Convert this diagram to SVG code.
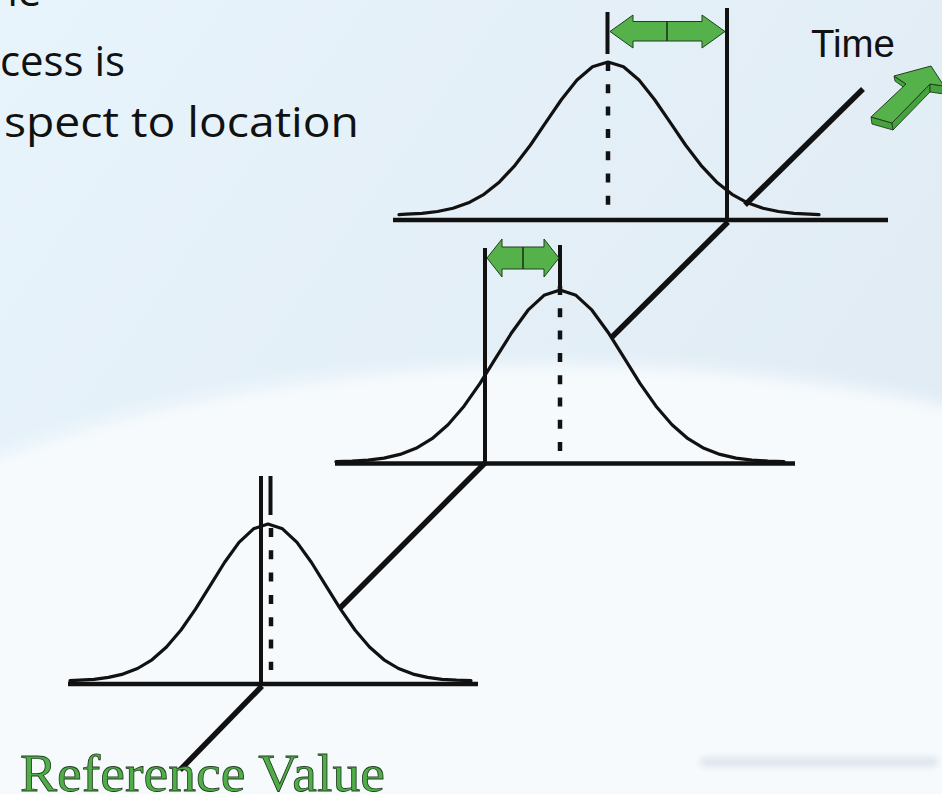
<svg xmlns="http://www.w3.org/2000/svg" width="942" height="794" viewBox="0 0 942 794">
<defs>
<linearGradient id="bg" x1="0" y1="0" x2="1" y2="0.6">
<stop offset="0" stop-color="#e8f4fb"/>
<stop offset="1" stop-color="#e0ebf4"/>
</linearGradient>
<filter id="soft" x="-10%" y="-10%" width="120%" height="120%"><feGaussianBlur stdDeviation="8"/></filter>
<filter id="soft2" x="-10%" y="-100%" width="120%" height="300%"><feGaussianBlur stdDeviation="3"/></filter>
<style>
.curve{fill:none;stroke:#111;stroke-width:3.2;stroke-linejoin:round;stroke-linecap:round}
.axis{stroke:#111;stroke-width:4.5}
.vline{stroke:#111;stroke-width:4}
.dash{stroke:#111;stroke-width:4.5;stroke-dasharray:9 13.3}
.diag{stroke:#111;stroke-width:5.5}
.garrow{fill:#55b24a;stroke:#223d20;stroke-width:1}
.gside{fill:#46a23c;stroke:#223d20;stroke-width:0.9}
.body{font-family:'Open Sans','Noto Sans',sans-serif;font-size:42px;fill:#111}
</style>
</defs>
<rect width="942" height="794" fill="url(#bg)"/>
<ellipse cx="560" cy="840" rx="950" ry="476" fill="#f6fafd" filter="url(#soft)"/>
<rect x="700" y="757" width="238" height="10" rx="5" fill="#dfe6ee" filter="url(#soft2)"/>

<g id="title-text">
<text class="body" x="-8" y="6">ne</text>
<text class="body" x="0" y="76" textLength="125" lengthAdjust="spacingAndGlyphs">cess is</text>
<text class="body" x="4" y="137" textLength="355" lengthAdjust="spacingAndGlyphs">spect to location</text>
</g>

<g id="connectors">
<line class="diag" x1="262" y1="686" x2="180" y2="770"/>
<line class="diag" x1="340" y1="608" x2="485" y2="463"/>
<line class="diag" x1="612" y1="337" x2="728" y2="222"/>
<line class="diag" x1="745" y1="205" x2="863" y2="89"/>
</g>

<g id="dist-1">
<line class="axis" x1="68" y1="684" x2="478" y2="684"/>
<polyline class="curve" points="70,680.7 79.5,680.2 94,679.3 108.5,677.4 123,674.1 137.5,668.5 152,659.8 166.5,647 181,630 195.5,609.1 210,585.8 224.5,562.5 239,542.4 253.5,528.8 268,524 282.5,528.8 297,542.4 311.5,562.5 326,585.8 340.5,609.1 355,630 369.5,647 384,659.8 398.5,668.5 413,674.1 427.5,677.4 442,679.3 456.5,680.2 471,680.7"/>
<line class="vline" x1="261" y1="476" x2="261" y2="686"/>
<line class="vline" x1="270.5" y1="476" x2="270.5" y2="515"/>
<line class="dash" x1="271" y1="528" x2="271" y2="670"/>
</g>

<g id="dist-2">
<line class="axis" x1="335" y1="463.5" x2="795" y2="463.5"/>
<polyline class="curve" points="336,461.6 352,461.1 368,460.1 384,458.1 400,454.4 416,448.3 432,438.7 448,424.8 464,406.2 480,383.3 496,357.7 512,332.2 528,310.2 544,295.3 560,290 576,295.3 592,310.2 608,332.2 624,357.7 640,383.3 656,406.2 672,424.8 688,438.7 704,448.3 720,454.4 736,458.1 752,460.1 768,461.1 784,461.6"/>
<line class="vline" x1="485" y1="248" x2="485" y2="463"/>
<line class="vline" x1="560" y1="245" x2="560" y2="292"/>
<line class="dash" x1="560" y1="286" x2="560" y2="451"/>
<polygon class="garrow" points="487,258 502,239 502,247 544,247 544,239 559,258 544,277 544,269 502,269 502,277"/>
<line x1="523" y1="247" x2="523" y2="269" stroke="#1a2e18" stroke-width="1.5"/>
</g>

<g id="dist-3">
<line class="axis" x1="393" y1="220" x2="888" y2="220"/>
<polyline class="curve" points="399,214.6 406.5,214.2 422,213.3 437.5,211.5 453,208.3 468.5,202.8 484,194.3 499.5,181.9 515,165.3 530.5,145 546,122.2 561.5,99.5 577,80 592.5,66.7 608,62 623.5,66.7 639,80 654.5,99.5 670,122.2 685.5,145 701,165.3 716.5,181.9 732,194.3 747.5,202.8 763,208.3 778.5,211.5 794,213.3 809.5,214.2 819,214.6"/>
<line class="vline" x1="607.5" y1="12" x2="607.5" y2="54"/>
<line class="vline" x1="727" y1="8" x2="727" y2="220"/>
<line class="dash" x1="608" y1="62" x2="608" y2="212"/>
<polygon class="garrow" points="610,31.5 633,15 633,21.5 702,21.5 702,15 725,31.5 702,48 702,41 633,41 633,48"/>
<line x1="667" y1="21.5" x2="667" y2="41" stroke="#1a2e18" stroke-width="1.5"/>
</g>

<g id="time-label">
<text x="811" y="57" font-family="'Liberation Sans',Arial,sans-serif" font-size="38" fill="#111" textLength="84" lengthAdjust="spacingAndGlyphs">Time</text>
<polygon class="gside" points="871,117 892,123 893,130 872,124"/>
<polygon class="gside" points="892,123 930,84 930,92 893,130"/>
<polygon class="gside" points="930,84 944,86 944,94 930,92"/>
<polygon class="gside" points="894,76 906,84 906,89 895,81"/>
<polygon class="garrow" points="871,117 906,84 894,76 931,66 944,86 930,84 892,123"/>
</g>

<g id="reference-label">
<text x="20" y="791" font-family="'Liberation Serif','Times New Roman',serif" font-size="52" fill="#4fae48" stroke="#1f3a1c" stroke-width="0.8" textLength="365" lengthAdjust="spacingAndGlyphs">Reference Value</text>
</g>
</svg>
